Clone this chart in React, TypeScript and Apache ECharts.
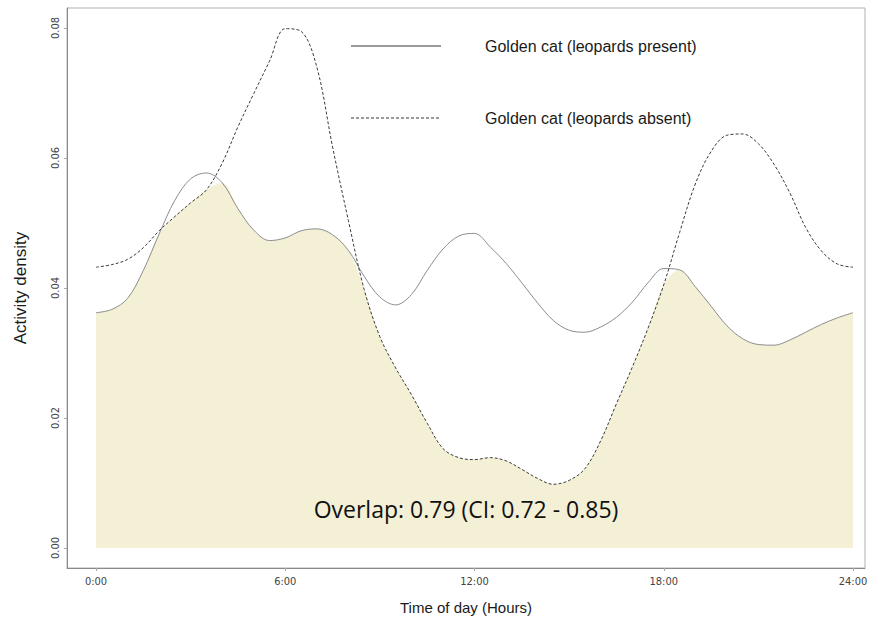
import { useEffect, useRef } from "react";
import * as echarts from "echarts";

// Time of day (hours) at which the kernel densities are sampled
const hours = [
  0, 0.5, 1, 1.5, 2, 2.5, 3, 3.5, 4, 4.5, 5, 5.5, 6, 6.5, 7, 7.5, 8, 8.5, 9, 9.5,
  10, 10.5, 11, 11.5, 12, 12.5, 13, 13.5, 14, 14.5, 15, 15.5, 16, 16.5, 17, 17.5,
  18, 18.5, 19, 19.5, 20, 20.5, 21, 21.5, 22, 22.5, 23, 23.5, 24,
];

// Activity density of golden cats where leopards are present
const present = [
  0.0362, 0.0367, 0.0384, 0.0427, 0.0483, 0.0535, 0.0568, 0.0577, 0.0562, 0.0522,
  0.0489, 0.0473, 0.0477, 0.0488, 0.0491, 0.0482, 0.0458, 0.0418, 0.0386, 0.0374,
  0.039, 0.0427, 0.046, 0.048, 0.0484, 0.0463, 0.0438, 0.0408, 0.0377, 0.035,
  0.0335, 0.0332, 0.034, 0.0355, 0.0378, 0.0408, 0.043, 0.0428, 0.0402, 0.0372,
  0.0342, 0.0322, 0.0313, 0.0312, 0.032, 0.0332, 0.0344, 0.0354, 0.0362,
];

// Activity density of golden cats where leopards are absent
const absent = [
  0.0432, 0.0436, 0.0444, 0.0462, 0.0488, 0.051, 0.0531, 0.0551, 0.0592, 0.0648,
  0.0699, 0.0749, 0.0799, 0.0795, 0.074, 0.0617, 0.0504, 0.0398, 0.0325, 0.0277,
  0.0236, 0.0192, 0.0153, 0.0139, 0.0136, 0.0139, 0.0134, 0.0121, 0.0107, 0.0098,
  0.0104, 0.0122, 0.0165, 0.0222, 0.0278, 0.0338, 0.0405, 0.0485, 0.056, 0.061,
  0.0635, 0.0637, 0.0622, 0.059, 0.0546, 0.0493, 0.0457, 0.0437, 0.0432,
];

const xTicks = [0, 6, 12, 18, 24];
const xTickLabels = ["0:00", "6:00", "12:00", "18:00", "24:00"];
const yTicks = [0, 0.02, 0.04, 0.06, 0.08];
const yTickLabels = ["0.00", "0.02", "0.04", "0.06", "0.08"];

const seriesNames = ["Golden cat (leopards present)", "Golden cat (leopards absent)"];
const overlapText = "Overlap: 0.79 (CI: 0.72 - 0.85)";

const narrow = "'Liberation Sans Narrow', 'DejaVu Sans Condensed', 'Liberation Sans', sans-serif";
const sans = "'Liberation Sans', Arial, sans-serif";

export default function App() {
  const ref = useRef<HTMLDivElement>(null);

  useEffect(() => {
    if (!ref.current) return;
    const chart = echarts.init(ref.current, null, { renderer: "svg" });

    const presentData = hours.map((h, i) => [h, present[i]]);
    const absentData = hours.map((h, i) => [h, absent[i]]);
    // shared area under both curves
    const overlapData = hours.map((h, i) => [h, Math.min(present[i], absent[i])]);

    chart.setOption({
      animation: false,
      backgroundColor: "#ffffff",
      grid: {
        left: 67,
        right: 6,
        top: 8,
        bottom: 57,
        show: true,
        borderColor: "#b0b0b0",
        borderWidth: 1,
      },
      legend: {
        orient: "vertical",
        left: 345,
        top: 33,
        itemWidth: 90,
        itemHeight: 16,
        itemGap: 56,
        data: seriesNames,
        itemStyle: { opacity: 0 },
        lineStyle: { color: "#9a9a9a" },
        textStyle: {
          fontFamily: sans,
          fontSize: 16,
          color: "#1a1a1a",
          lineHeight: 16,
          padding: [0, 0, 0, 39],
        },
      },
      xAxis: {
        type: "value",
        min: -0.92,
        max: 24.38,
        name: "Time of day (Hours)",
        nameLocation: "middle",
        nameGap: 32,
        nameTextStyle: { fontFamily: sans, fontSize: 15, color: "#1a1a1a" },
        axisLine: { show: true, onZero: false, lineStyle: { color: "#8a8a8a", width: 1 } },
        axisTick: {
          show: true,
          customValues: xTicks,
          length: 3,
          lineStyle: { color: "#aaaaaa" },
        },
        axisLabel: {
          customValues: xTicks,
          formatter: (v: number) => xTickLabels[xTicks.indexOf(v)] ?? "",
          fontFamily: narrow,
          fontSize: 11,
          color: "#444444",
          margin: 8,
        },
        splitLine: { show: false },
      },
      yAxis: {
        type: "value",
        min: -0.00308,
        max: 0.08308,
        name: "Activity density",
        nameLocation: "middle",
        nameGap: 38,
        nameTextStyle: { fontFamily: sans, fontSize: 17, color: "#1a1a1a" },
        axisLine: { show: true, onZero: false, lineStyle: { color: "#8a8a8a", width: 1 } },
        axisTick: {
          show: true,
          customValues: yTicks,
          length: 3,
          lineStyle: { color: "#aaaaaa" },
        },
        axisLabel: {
          customValues: yTicks,
          formatter: (v: number) => {
            const i = yTicks.findIndex((t) => Math.abs(t - v) < 1e-9);
            return i >= 0 ? yTickLabels[i] : "";
          },
          rotate: 90,
          fontFamily: narrow,
          fontSize: 11,
          color: "#444444",
          margin: 6,
        },
        splitLine: { show: false },
      },
      series: [
        {
          name: "overlap",
          type: "line",
          data: overlapData,
          smooth: 0.35,
          symbol: "none",
          lineStyle: { width: 0 },
          areaStyle: { color: "#f3f0d5", opacity: 1 },
          z: 1,
          silent: true,
        },
        {
          name: seriesNames[0],
          type: "line",
          data: presentData,
          smooth: 0.35,
          symbol: "none",
          lineStyle: { color: "#8c8c8c", width: 1, type: "solid" },
          itemStyle: { color: "#8c8c8c" },
          z: 3,
        },
        {
          name: seriesNames[1],
          type: "line",
          data: absentData,
          smooth: 0.35,
          symbol: "none",
          lineStyle: { color: "#3a3a3a", width: 1, type: [3, 2] },
          itemStyle: { color: "#8c8c8c" },
          z: 3,
        },
      ],
      graphic: [
        {
          type: "text",
          x: 466,
          y: 509,
          z: 10,
          style: {
            text: overlapText,
            fontFamily: "'Open Sans', 'Noto Sans', sans-serif",
            fontSize: 23,
            fill: "#111111",
            textAlign: "center",
            textVerticalAlign: "middle",
          },
        },
      ],
    });

    return () => chart.dispose();
  }, []);

  return (
    <div
      ref={ref}
      style={{ position: "absolute", left: 0, top: 0, width: 871, height: 625, background: "#fff" }}
    />
  );
}
